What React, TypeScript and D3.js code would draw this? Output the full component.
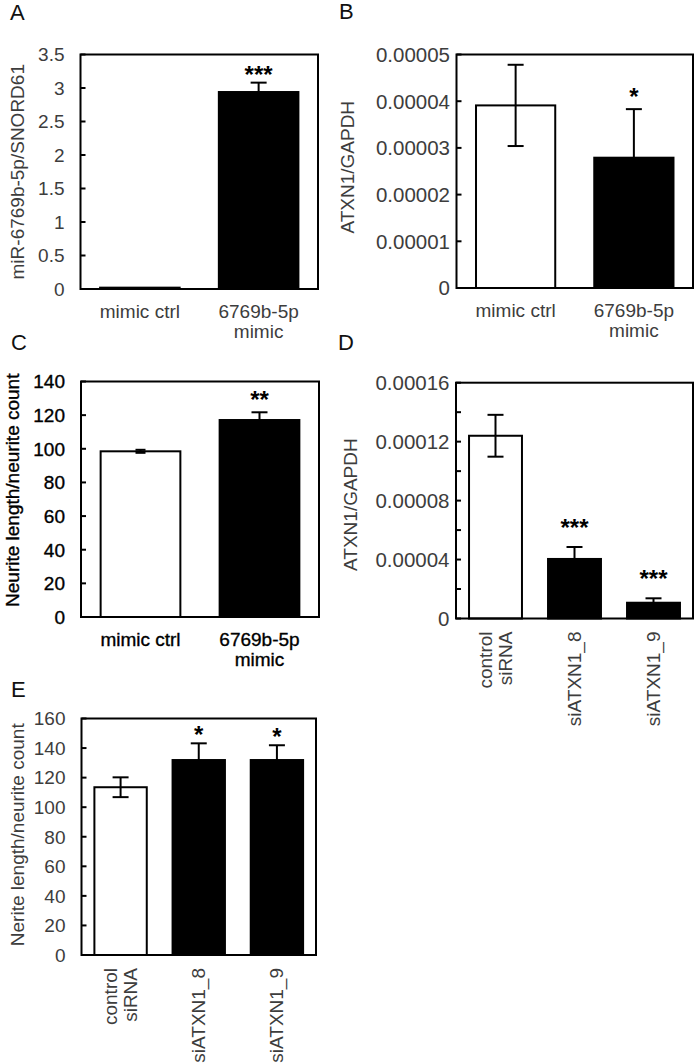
import React from "react";
import * as d3 from "d3";

// ---------- data ----------
const mimicCats = ["mimic ctrl", "6769b-5p|mimic"];
const siCats = ["control|siRNA", "siATXN1_8", "siATXN1_9"];

const aValues = [0.02, 2.94];
const aErrors = [0, 0.14];
const aSig = ["", "***"];
const aTicks = [0, 0.5, 1, 1.5, 2, 2.5, 3, 3.5];
const aTickLabels = ["0", "0.5", "1", "1.5", "2", "2.5", "3", "3.5"];

const bValues = [3.91e-5, 2.79e-5];
const bErrors = [0.87e-5, 1.04e-5];
const bSig = ["", "*"];
const bTicks = [0, 1e-5, 2e-5, 3e-5, 4e-5, 5e-5];
const bTickLabels = ["0", "0.00001", "0.00002", "0.00003", "0.00004", "0.00005"];

const cValues = [98.5, 117.1];
const cErrors = [0.9, 4.6];
const cSig = ["", "**"];
const cTicks = [0, 20, 40, 60, 80, 100, 120, 140];
const cTickLabels = ["0", "20", "40", "60", "80", "100", "120", "140"];

const dValues = [12.4e-5, 4.04e-5, 1.07e-5];
const dErrors = [1.42e-5, 0.81e-5, 0.3e-5];
const dSig = ["", "***", "***"];
const dTicks = [0, 2e-5, 4e-5, 6e-5, 8e-5, 10e-5, 12e-5, 14e-5, 16e-5];
const dTickLabels = ["0", "", "0.00004", "", "0.00008", "", "0.00012", "", "0.00016"];

const eValues = [113.5, 131.9, 131.9];
const eErrors = [6.7, 11.3, 10.0];
const eSig = ["", "*", "*"];
const eTicks = [0, 20, 40, 60, 80, 100, 120, 140, 160];
const eTickLabels = ["0", "20", "40", "60", "80", "100", "120", "140", "160"];

const FONT = "'Liberation Sans', Arial, Helvetica, sans-serif";

type PanelProps = {
  letter: string;
  letterX: number;
  letterY: number;
  cats: string[];
  values: number[];
  errors: number[];
  sig: string[];
  ticks: number[];
  tickLabels: string[];
  title: string;
  x0: number;
  x1: number;
  y0: number;
  y1: number;
  titleX: number;
  titleDy: number;
  labelGap: number;
  tickFs: number;
  rotated: boolean;
  color: string;
  strokeText: number;
  sigGap: number;
};

function Panel(p: PanelProps) {
  const yMax = p.ticks[p.ticks.length - 1];
  const x = d3
    .scaleBand<string>()
    .domain(p.cats)
    .range([p.x0, p.x1])
    .paddingInner(0.33)
    .paddingOuter(0.165);
  const y = d3.scaleLinear().domain([0, yMax]).range([p.y1, p.y0]);
  const bw = x.bandwidth();
  const fs = 19;
  const textStyle = {
    fontFamily: FONT,
    fontSize: fs,
    fill: p.color,
    stroke: p.strokeText > 0 ? p.color : "none",
    strokeWidth: p.strokeText,
  } as React.CSSProperties;
  const cap = 8;
  return (
    <g>
      <text x={p.letterX} y={p.letterY} style={{ fontFamily: FONT, fontSize: 22, fill: "#111" }}>
        {p.letter}
      </text>
      {/* bars */}
      {p.cats.map((c, i) => {
        const v = p.values[i];
        return (
          <rect
            key={"bar" + i}
            x={x(c)!}
            y={y(v)}
            width={bw}
            height={Math.max(0, y(0) - y(v))}
            fill={i === 0 ? "#fff" : "#000"}
            stroke="#000"
            strokeWidth={2}
          />
        );
      })}
      {/* error bars */}
      {p.cats.map((c, i) => {
        const v = p.values[i];
        const e = p.errors[i];
        if (!e) return null;
        const cx = x(c)! + bw / 2;
        const capW = i === 0 && e < yMax * 0.02 ? 5 : cap;
        return (
          <g key={"err" + i} stroke="#000" strokeWidth={2}>
            <line x1={cx} x2={cx} y1={y(v - e)} y2={y(v + e)} />
            <line x1={cx - capW} x2={cx + capW} y1={y(v + e)} y2={y(v + e)} />
            <line x1={cx - capW} x2={cx + capW} y1={y(v - e)} y2={y(v - e)} />
          </g>
        );
      })}
      {/* significance */}
      {p.cats.map((c, i) => {
        if (!p.sig[i]) return null;
        const cx = x(c)! + bw / 2;
        const cy = y(p.values[i] + p.errors[i]) - p.sigGap;
        return (
          <text
            key={"sig" + i}
            x={cx}
            y={cy + 13}
            textAnchor="middle"
            style={{ fontFamily: FONT, fontSize: 24, fontWeight: "bold", fill: "#000" }}
          >
            {p.sig[i]}
          </text>
        );
      })}
      {/* box */}
      <rect
        x={p.x0}
        y={p.y0}
        width={p.x1 - p.x0}
        height={p.y1 - p.y0}
        fill="none"
        stroke="#000"
        strokeWidth={2}
      />
      {/* ticks */}
      {p.ticks.map((t, i) => (
        <line key={"tk" + i} x1={p.x0} x2={p.x0 + 5} y1={y(t)} y2={y(t)} stroke="#000" strokeWidth={2} />
      ))}
      {p.ticks.map((t, i) =>
        p.tickLabels[i] ? (
          <text
            key={"tl" + i}
            x={p.x0 - p.labelGap}
            y={y(t)}
            dy="0.36em"
            textAnchor="end"
            style={{ ...textStyle, fontSize: p.tickFs }}
          >
            {p.tickLabels[i]}
          </text>
        ) : null
      )}
      {/* y title */}
      <text
        transform={`translate(${p.titleX},${(p.y0 + p.y1) / 2 + p.titleDy}) rotate(-90)`}
        textAnchor="middle"
        style={textStyle}
      >
        {p.title}
      </text>
      {/* x labels */}
      {p.cats.map((c, i) => {
        const lines = c.split("|");
        const cx = x(c)! + bw / 2;
        if (p.rotated) {
          return lines.map((ln, j) => (
            <text
              key={"xl" + i + "-" + j}
              transform={`translate(${cx + 6 + (j - (lines.length - 1) / 2) * 20},${p.y1 + 13}) rotate(-90)`}
              textAnchor="end"
              style={textStyle}
            >
              {ln}
            </text>
          ));
        }
        return lines.map((ln, j) => (
          <text
            key={"xl" + i + "-" + j}
            x={cx}
            y={p.y1 + 29 + j * 20}
            textAnchor="middle"
            style={textStyle}
          >
            {ln}
          </text>
        ));
      })}
    </g>
  );
}

export default function App() {
  const gray = "#3d3d3d";
  return (
    <svg
      width={695}
      height={1063}
      style={{ position: "absolute", left: 0, top: 0, background: "#fff" }}
    >
      <rect x={0} y={0} width={695} height={1063} fill="#fff" />
      <Panel
        letter="A" letterX={10} letterY={20}
        cats={mimicCats} values={aValues} errors={aErrors} sig={aSig}
        ticks={aTicks} tickLabels={aTickLabels}
        title="miR-6769b-5p/SNORD61"
        x0={80.5} x1={318} y0={54.5} y1={289}
        titleX={24} titleDy={0} labelGap={16} tickFs={19} rotated={false}
        color={gray} strokeText={0} sigGap={13}
      />
      <Panel
        letter="B" letterX={339} letterY={19}
        cats={mimicCats} values={bValues} errors={bErrors} sig={bSig}
        ticks={bTicks} tickLabels={bTickLabels}
        title="ATXN1/GAPDH"
        x0={456.5} x1={693} y0={54.5} y1={288}
        titleX={354} titleDy={-4} labelGap={6.5} tickFs={20.5} rotated={false}
        color={gray} strokeText={0} sigGap={17}
      />
      <Panel
        letter="C" letterX={11} letterY={350}
        cats={mimicCats} values={cValues} errors={cErrors} sig={cSig}
        ticks={cTicks} tickLabels={cTickLabels}
        title="Neurite length/neurite count"
        x0={81} x1={319} y0={381.5} y1={617}
        titleX={19} titleDy={-9} labelGap={16} tickFs={19} rotated={false}
        color="#000" strokeText={0.35} sigGap={17}
      />
      <Panel
        letter="D" letterX={338} letterY={350}
        cats={siCats} values={dValues} errors={dErrors} sig={dSig}
        ticks={dTicks} tickLabels={dTickLabels}
        title="ATXN1/GAPDH"
        x0={456} x1={693} y0={382.7} y1={618.5}
        titleX={357} titleDy={4} labelGap={6.5} tickFs={20.5} rotated={true}
        color={gray} strokeText={0} sigGap={24}
      />
      <Panel
        letter="E" letterX={11} letterY={697}
        cats={siCats} values={eValues} errors={eErrors} sig={eSig}
        ticks={eTicks} tickLabels={eTickLabels}
        title="Nerite length/neurite count"
        x0={81.5} x1={316} y0={718.5} y1={955}
        titleX={24} titleDy={-2} labelGap={16} tickFs={19} rotated={true}
        color={gray} strokeText={0} sigGap={13}
      />
    </svg>
  );
}
